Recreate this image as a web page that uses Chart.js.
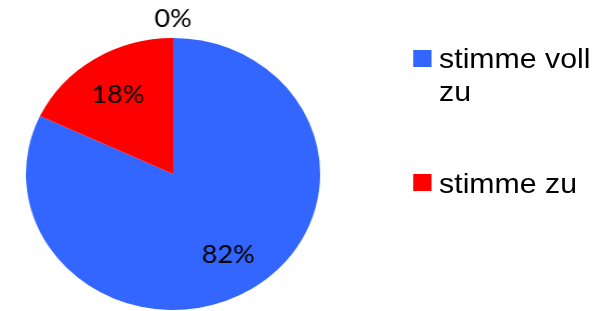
<!DOCTYPE html>
<html>
<head>
<meta charset="utf-8">
<script src="https://cdn.jsdelivr.net/npm/chart.js@4"></script>
<style>
  html, body { margin:0; padding:0; background:#fff; }
  body { width:610px; height:311px; overflow:hidden; }
  /* the original picture is stretched horizontally, so is ours */
  #stage { position:relative; width:564px; height:311px; transform:scaleX(1.0815); transform-origin:0 0; }
  #stage canvas { position:absolute; left:0; top:0; }
  #legend { position:absolute; left:382px; top:0; width:170px; font-family:"Liberation Sans", Arial, sans-serif; font-size:28px; line-height:32.5px; color:#000; }
  .item { position:absolute; left:0; display:flex; align-items:flex-start; width:170px; }
  .box { width:17px; height:17px; flex:0 0 17px; margin-right:7px; }
  .txt { width:146px; }
</style>
</head>
<body>
<div id="stage">
  <canvas id="chartPie"></canvas>
  <div id="legend"></div>
</div>
<script>
// ============= DATA =============
const categories = ['stimme voll zu', 'stimme zu', ''];
const shares = [82, 18, 0];
const sliceColors = ['#3366FF', '#FF0000', '#A0A0A0'];

// ============= LABEL PLUGIN =============
const sliceLabels = {
  id: 'sliceLabels',
  afterDatasetsDraw(chart) {
    const ctx = chart.ctx;
    const meta = chart.getDatasetMeta(0);
    ctx.save();
    ctx.fillStyle = '#000';
    ctx.font = '25px Lato, "Open Sans", sans-serif';
    ctx.textAlign = 'center';
    ctx.textBaseline = 'alphabetic';
    meta.data.forEach((arc, i) => {
      const p = arc.getProps(['x', 'y', 'startAngle', 'endAngle', 'outerRadius'], true);
      const mid = (p.startAngle + p.endAngle) / 2;
      const v = shares[i];
      const r = v === 0 ? p.outerRadius + 20 : p.outerRadius * 0.7;
      const tx = p.x + Math.cos(mid) * r;
      const ty = p.y + Math.sin(mid) * r;
      ctx.fillText(v + '%', tx, ty + 9);
    });
    ctx.restore();
  }
};

new Chart(document.getElementById('chartPie'), {
  type: 'pie',
  data: {
    labels: categories,
    datasets: [{
      data: shares,
      backgroundColor: sliceColors,
      borderWidth: 0
    }]
  },
  options: {
    responsive: true,
    maintainAspectRatio: false,
    animation: false,
    layout: { padding: { left: 24, right: 268, top: 38, bottom: 1 } },
    plugins: {
      legend: { display: false },
      tooltip: { enabled: false }
    }
  },
  plugins: [sliceLabels]
});

// ============= LEGEND =============
const legendTops = [43.4, 168.4];
const legend = document.getElementById('legend');
categories.forEach((name, i) => {
  if (!name) return;
  const item = document.createElement('div');
  item.className = 'item';
  item.style.top = legendTops[i] + 'px';
  const box = document.createElement('div');
  box.className = 'box';
  box.style.background = sliceColors[i];
  box.style.marginTop = (i === 0 ? 6.5 : 6) + 'px';
  const txt = document.createElement('div');
  txt.className = 'txt';
  txt.textContent = name;
  item.appendChild(box);
  item.appendChild(txt);
  legend.appendChild(item);
});
</script>
</body>
</html>
